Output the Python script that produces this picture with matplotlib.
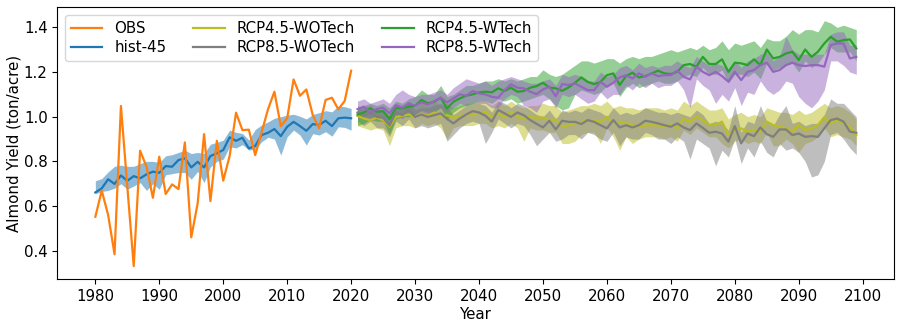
import matplotlib
matplotlib.use("Agg")
import matplotlib.pyplot as plt
import numpy as np

hist_years = list(range(1980, 2021))
fut_years = list(range(2021, 2100))

obs = [0.552, 0.669, 0.560, 0.384, 1.048, 0.687, 0.331, 0.848, 0.776, 0.637,
       0.821, 0.654, 0.697, 0.676, 0.885, 0.460, 0.612, 0.922, 0.622, 0.892,
       0.714, 0.824, 1.018, 0.940, 0.942, 0.828, 0.930, 1.033, 1.112, 0.958,
       0.993, 1.167, 1.094, 1.122, 1.007, 0.948, 1.075, 1.085, 1.033, 1.071,
       1.206]

hist_mean = [0.661, 0.679, 0.720, 0.699, 0.737, 0.713, 0.734, 0.724, 0.742, 0.754,
             0.749, 0.779, 0.776, 0.806, 0.814, 0.773, 0.798, 0.773, 0.824, 0.836,
             0.851, 0.908, 0.892, 0.906, 0.858, 0.869, 0.918, 0.928, 0.945, 0.913,
             0.955, 0.977, 0.958, 0.937, 0.967, 0.963, 0.982, 0.958, 0.993, 0.996,
             0.993]
hist_hi = [0.713, 0.723, 0.753, 0.778, 0.783, 0.778, 0.778, 0.790, 0.800, 0.800,
           0.795, 0.825, 0.830, 0.840, 0.850, 0.835, 0.840, 0.835, 0.877, 0.885,
           0.895, 0.940, 0.930, 0.925, 0.896, 0.943, 0.963, 0.977, 0.993, 1.000,
           1.007, 1.011, 1.002, 0.990, 1.010, 1.018, 1.027, 1.022, 1.048, 1.045,
           1.037]
hist_lo = [0.655, 0.665, 0.670, 0.680, 0.700, 0.675, 0.690, 0.705, 0.670, 0.700,
           0.675, 0.740, 0.745, 0.750, 0.750, 0.720, 0.755, 0.705, 0.775, 0.800,
           0.810, 0.866, 0.860, 0.875, 0.851, 0.854, 0.888, 0.908, 0.900, 0.828,
           0.910, 0.940, 0.918, 0.873, 0.924, 0.918, 0.933, 0.913, 0.955, 0.952,
           0.940]

# RCP4.5-WOTech (olive)
r45wo_mean = [1.003, 0.992, 0.985, 0.995, 0.985, 0.955, 0.999, 1.004, 1.010, 0.999,
              1.015, 1.004, 1.019, 0.999, 1.007, 0.995, 1.004, 1.007, 1.007, 1.019,
              1.022, 0.999, 1.015, 0.999, 1.022, 0.999, 0.992, 0.999, 0.995,
              0.997, 0.985, 0.988, 0.955, 0.962, 0.970, 0.977, 0.985, 0.985, 0.977,
              1.000, 0.970, 0.977, 0.970, 0.962, 0.955, 0.962, 0.962, 0.962, 0.955,
              0.962, 0.948, 0.992, 0.977, 1.000,
              0.985, 0.963, 0.963, 0.978, 0.918, 0.940, 0.948, 0.933, 0.940, 0.933,
              0.978, 0.963, 0.955, 0.948, 0.933, 0.963, 0.940, 0.948, 0.963, 0.998,
              0.970, 0.985, 0.970, 0.952, 0.918]
r45wo_hi = [1.04, 1.03, 1.02, 1.03, 1.03, 1.00, 1.04, 1.05, 1.06, 1.04,
            1.06, 1.05, 1.07, 1.05, 1.06, 1.04, 1.05, 1.06, 1.06, 1.07,
            1.07, 1.05, 1.07, 1.05, 1.07, 1.05, 1.04, 1.05, 1.05,
            1.06, 1.05, 1.05, 1.02, 1.03, 1.04, 1.05, 1.05, 1.06, 1.05,
            1.07, 1.04, 1.05, 1.04, 1.04, 1.03, 1.04, 1.04, 1.04, 1.03,
            1.04, 1.03, 1.07, 1.05, 1.07, 1.05,
            1.03, 1.03, 1.04, 0.99, 1.01, 1.02, 1.00, 1.01, 1.00, 1.04,
            1.03, 1.02, 1.02, 1.01, 1.03, 1.01, 1.02, 1.04, 1.06, 1.04,
            1.05, 1.04, 1.02, 0.99]
r45wo_lo = [0.96, 0.95, 0.94, 0.95, 0.94, 0.87, 0.95, 0.96, 0.96, 0.95,
            0.97, 0.96, 0.97, 0.95, 0.90, 0.95, 0.96, 0.96, 0.96, 0.97,
            0.97, 0.95, 0.96, 0.95, 0.97, 0.95, 0.89, 0.95, 0.94,
            0.94, 0.93, 0.93, 0.88, 0.88, 0.89, 0.92, 0.93, 0.93, 0.88,
            0.95, 0.91, 0.85, 0.91, 0.88, 0.90, 0.91, 0.91, 0.91, 0.90,
            0.91, 0.89, 0.94, 0.92, 0.95, 0.93,
            0.91, 0.91, 0.88, 0.86, 0.89, 0.90, 0.88, 0.89, 0.88, 0.93,
            0.87, 0.87, 0.90, 0.88, 0.84, 0.88, 0.89, 0.91, 0.95, 0.91,
            0.92, 0.91, 0.90, 0.87]

# RCP8.5-WOTech (gray)
r85wo_mean = [1.019, 1.004, 1.019, 0.999, 0.995, 0.960, 1.019, 1.007, 1.030, 0.999,
              1.010, 0.999, 1.007, 1.015, 0.990, 0.970, 0.992, 1.010, 1.025, 1.019,
              1.004, 0.978, 1.030, 1.015, 0.999, 1.019, 1.007, 0.985, 0.968,
              0.952, 0.982, 0.943, 0.982, 0.977, 0.977, 0.967, 0.985, 0.977, 0.962,
              0.948, 0.985, 0.952, 0.962, 0.952, 0.962, 0.982, 0.977, 0.970, 0.962,
              0.955, 0.970, 0.952, 0.940, 0.970, 0.950,
              0.928, 0.933, 0.925, 0.888, 0.958, 0.881, 0.925, 0.913, 0.952, 0.922,
              0.910, 0.943, 0.943, 0.918, 0.925, 0.910, 0.913, 0.910, 0.948, 0.985,
              0.992, 0.978, 0.933, 0.928]
r85wo_hi = [1.05, 1.04, 1.05, 1.03, 1.03, 1.00, 1.05, 1.04, 1.07, 1.03,
            1.04, 1.04, 1.05, 1.06, 1.04, 1.01, 1.03, 1.05, 1.07, 1.06,
            1.05, 1.02, 1.07, 1.06, 1.04, 1.06, 1.05, 1.03, 1.01,
            1.00, 1.03, 0.99, 1.03, 1.02, 1.03, 1.02, 1.04, 1.03, 1.02,
            1.00, 1.04, 1.01, 1.02, 1.01, 1.02, 1.04, 1.03, 1.02, 1.02,
            1.01, 1.02, 1.01, 1.00, 1.03, 1.01,
            0.97, 0.98, 0.97, 0.94, 1.05, 0.93, 0.98, 0.97, 1.05, 0.98,
            0.96, 1.01, 1.05, 0.97, 0.98, 0.96, 0.97, 0.97, 1.01, 1.08,
            1.06, 1.06, 1.03, 1.00]
r85wo_lo = [0.98, 0.96, 0.98, 0.95, 0.95, 0.91, 0.98, 0.96, 0.99, 0.95,
            0.96, 0.95, 0.96, 0.97, 0.89, 0.92, 0.95, 0.97, 0.98, 0.97,
            0.88, 0.93, 0.99, 0.97, 0.95, 0.97, 0.96, 0.92, 0.87,
            0.90, 0.93, 0.89, 0.90, 0.92, 0.92, 0.90, 0.93, 0.92, 0.90,
            0.89, 0.93, 0.87, 0.91, 0.90, 0.90, 0.93, 0.92, 0.90, 0.90,
            0.88, 0.91, 0.89, 0.81, 0.90, 0.88,
            0.86, 0.78, 0.85, 0.82, 0.90, 0.79, 0.86, 0.82, 0.89, 0.84,
            0.82, 0.88, 0.85, 0.86, 0.84, 0.80, 0.73, 0.74, 0.80, 0.92,
            0.93, 0.90, 0.86, 0.83]

# RCP4.5-WTech (green)
r45w_mean = [1.010, 1.019, 1.037, 1.022, 1.025, 0.990, 1.040, 1.037, 1.045, 1.049,
             1.075, 1.060, 1.067, 1.085, 1.037, 1.067, 1.082, 1.094, 1.100, 1.109,
             1.112, 1.109, 1.127, 1.115, 1.130, 1.112, 1.115, 1.130, 1.137,
             1.152, 1.131, 1.127, 1.116, 1.131, 1.152, 1.176, 1.156, 1.146, 1.156,
             1.186, 1.194, 1.142, 1.182, 1.197, 1.176, 1.182, 1.194, 1.206, 1.194,
             1.191, 1.201, 1.231, 1.236, 1.224,
             1.268, 1.236, 1.236, 1.257, 1.201, 1.242, 1.239, 1.231, 1.257, 1.231,
             1.301, 1.261, 1.268, 1.283, 1.291, 1.254, 1.301, 1.268, 1.291, 1.328,
             1.358, 1.336, 1.343, 1.346, 1.306]
r45w_hi = [1.04, 1.05, 1.06, 1.05, 1.06, 1.04, 1.07, 1.06, 1.08, 1.09,
           1.12, 1.10, 1.10, 1.14, 1.09, 1.10, 1.12, 1.14, 1.14, 1.15,
           1.16, 1.16, 1.17, 1.16, 1.17, 1.16, 1.17, 1.18, 1.18,
           1.21, 1.19, 1.18, 1.19, 1.21, 1.23, 1.25, 1.25, 1.24, 1.25,
           1.26, 1.26, 1.24, 1.26, 1.27, 1.26, 1.27, 1.27, 1.28, 1.29,
           1.30, 1.29, 1.30, 1.31, 1.30,
           1.32, 1.30, 1.31, 1.34, 1.30, 1.33, 1.32, 1.33, 1.34, 1.31,
           1.35, 1.34, 1.34, 1.36, 1.39, 1.37, 1.39, 1.39, 1.38, 1.43,
           1.42, 1.40, 1.41, 1.40, 1.39]
r45w_lo = [0.96, 0.97, 0.99, 0.98, 0.98, 0.92, 0.99, 1.00, 1.00, 1.01,
           1.03, 1.02, 1.02, 1.04, 0.99, 1.02, 1.04, 1.05, 1.06, 1.07,
           1.07, 1.06, 1.08, 1.07, 1.08, 1.06, 1.07, 1.08, 1.09,
           1.10, 1.08, 1.05, 1.03, 1.04, 1.10, 1.12, 1.11, 1.10, 1.11,
           1.14, 1.15, 1.09, 1.13, 1.15, 1.13, 1.14, 1.15, 1.16, 1.15,
           1.15, 1.16, 1.18, 1.19, 1.18,
           1.22, 1.19, 1.19, 1.21, 1.15, 1.19, 1.19, 1.18, 1.20, 1.17,
           1.24, 1.21, 1.22, 1.23, 1.24, 1.20, 1.25, 1.22, 1.24, 1.28,
           1.31, 1.29, 1.29, 1.29, 1.25]

# RCP8.5-WTech (purple)
r85w_mean = [1.034, 1.045, 1.019, 1.034, 1.040, 1.015, 1.052, 1.040, 1.060, 1.049,
             1.064, 1.055, 1.070, 1.085, 1.064, 1.082, 1.100, 1.094, 1.115, 1.104,
             1.100, 1.089, 1.085, 1.119, 1.145, 1.130, 1.127,
             1.112, 1.101, 1.122, 1.134, 1.092, 1.146, 1.142, 1.149, 1.134, 1.119,
             1.119, 1.156, 1.134, 1.152, 1.176, 1.186, 1.171, 1.194, 1.179, 1.194,
             1.182, 1.186, 1.186, 1.206, 1.179, 1.167, 1.224,
             1.201, 1.186, 1.201, 1.182, 1.157, 1.201, 1.164, 1.201, 1.209, 1.231,
             1.242, 1.201, 1.209, 1.231, 1.242, 1.231, 1.227, 1.231, 1.231, 1.224,
             1.321, 1.328, 1.328, 1.261, 1.268]
r85w_hi = [1.07, 1.08, 1.06, 1.07, 1.08, 1.06, 1.10, 1.12, 1.10, 1.09,
           1.10, 1.10, 1.11, 1.12, 1.10, 1.13, 1.15, 1.17, 1.16, 1.15,
           1.16, 1.14, 1.16, 1.17, 1.18, 1.17, 1.16,
           1.15, 1.15, 1.16, 1.17, 1.14, 1.19, 1.18, 1.19, 1.18, 1.16,
           1.16, 1.20, 1.18, 1.19, 1.22, 1.23, 1.21, 1.24, 1.22, 1.23,
           1.22, 1.23, 1.23, 1.25, 1.23, 1.22, 1.27,
           1.25, 1.23, 1.24, 1.23, 1.21, 1.25, 1.22, 1.25, 1.26, 1.28,
           1.29, 1.25, 1.27, 1.36, 1.30, 1.28, 1.28, 1.28, 1.28, 1.28,
           1.37, 1.38, 1.38, 1.32, 1.32]
r85w_lo = [0.99, 1.00, 0.98, 0.99, 1.00, 0.96, 1.01, 0.99, 1.02, 1.01,
           1.02, 1.01, 1.03, 1.04, 1.02, 1.04, 1.06, 1.05, 1.07, 1.06,
           1.06, 1.04, 1.04, 1.08, 1.10, 1.09, 1.05,
           1.04, 1.02, 1.07, 1.08, 1.04, 1.10, 1.09, 1.10, 1.08, 1.06,
           1.07, 1.11, 1.08, 1.10, 1.10, 1.14, 1.12, 1.15, 1.13, 1.15,
           1.13, 1.14, 1.14, 1.16, 1.12, 1.04, 1.17,
           1.14, 1.12, 1.06, 1.10, 1.07, 1.13, 1.05, 1.11, 1.10, 1.16,
           1.12, 1.10, 1.12, 1.16, 1.15, 1.09, 1.06, 1.04, 1.07, 1.12,
           1.25, 1.25, 1.23, 1.20, 1.19]

FS = 10.8
plt.rcParams['font.family'] = ['DejaVu Sans']
fig = plt.figure(figsize=(9.01, 3.27), dpi=100)
ax = fig.add_axes([0.0636, 0.1459, 0.929, 0.8318])

ax.plot(hist_years, obs, color='tab:orange', lw=1.6, label='OBS', zorder=5)
ax.plot(hist_years, hist_mean, color='tab:blue', lw=1.6, label='hist-45', zorder=3)
ax.fill_between(hist_years, hist_lo, hist_hi, color='tab:blue', alpha=0.5, lw=0, zorder=2)

series = [
    ('RCP4.5-WOTech', 'tab:olive', r45wo_mean, r45wo_lo, r45wo_hi),
    ('RCP8.5-WOTech', 'tab:gray', r85wo_mean, r85wo_lo, r85wo_hi),
    ('RCP4.5-WTech', 'tab:green', r45w_mean, r45w_lo, r45w_hi),
    ('RCP8.5-WTech', 'tab:purple', r85w_mean, r85w_lo, r85w_hi),
]
for name, col, m, lo, hi in series:
    ax.plot(fut_years, m, color=col, lw=1.6, label=name, zorder=3)
    ax.fill_between(fut_years, lo, hi, color=col, alpha=0.5, lw=0, zorder=2)

ax.set_xlim(1974.05, 2104.95)
ax.set_ylim(0.272, 1.49)
ax.set_xticks(range(1980, 2101, 10))
ax.set_yticks([0.4, 0.6, 0.8, 1.0, 1.2, 1.4])
ax.set_yticklabels(['0.4', '0.6', '0.8', '1.0', '1.2', '1.4'])
ax.tick_params(labelsize=FS)
ax.set_xlabel('Year', fontsize=FS, labelpad=2)
ax.set_ylabel('Almond Yield (ton/acre)', fontsize=FS, labelpad=1.5)
ax.legend(loc='upper left', ncol=3, fontsize=FS, handlelength=2.1,
          columnspacing=1.8, borderaxespad=0.5, labelspacing=0.3)

fig.savefig('out.png', dpi=100)
